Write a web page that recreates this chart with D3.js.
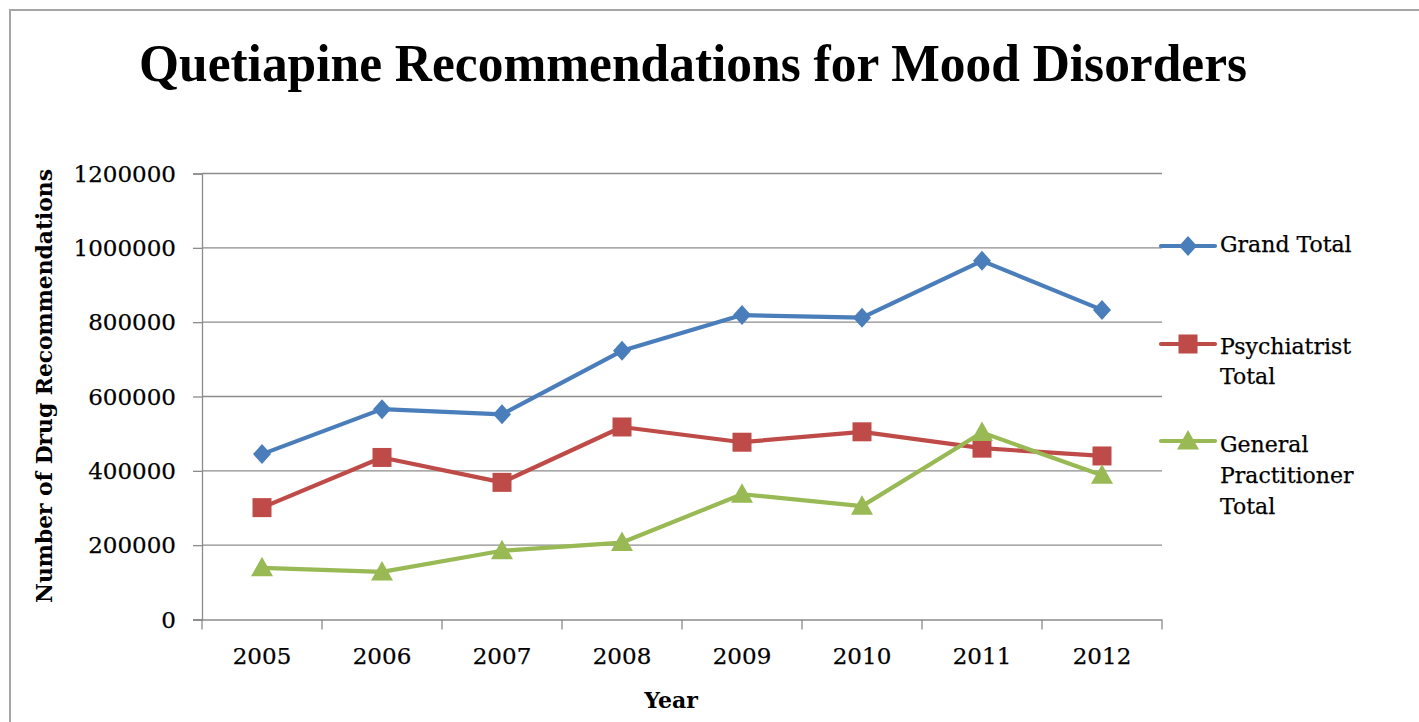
<!DOCTYPE html>
<html>
<head>
<meta charset="utf-8">
<script src="https://cdn.jsdelivr.net/npm/d3@7"></script>
<style>
  html, body { margin: 0; padding: 0; background: #fff; }
  svg { display: block; }
</style>
</head>
<body>
<svg id="chart" width="1419" height="722"></svg>
<script>
// Yearly counts of quetiapine recommendations for mood disorders
const years = ["2005", "2006", "2007", "2008", "2009", "2010", "2011", "2012"];
const grandTotal = [445000, 566000, 552000, 723000, 819000, 812000, 965000, 833000];
const psychiatristTotal = [301000, 436000, 369000, 518000, 477000, 505000, 461000, 440000];
const gpTotal = [139000, 128000, 185000, 207000, 337000, 305000, 503000, 388000];
const yTicks = [0, 200000, 400000, 600000, 800000, 1000000, 1200000];
const seriesNames = [["Grand Total"], ["Psychiatrist", "Total"], ["General", "Practitioner", "Total"]];

const series = [
  { key: "grand", values: grandTotal, color: "#4a7ebb", marker: "diamond", label: seriesNames[0] },
  { key: "psych", values: psychiatristTotal, color: "#be4b48", marker: "square", label: seriesNames[1] },
  { key: "gp", values: gpTotal, color: "#98b954", marker: "triangle", label: seriesNames[2] }
];

const svg = d3.select("#chart");
const serif = "'DejaVu Serif', 'Liberation Serif', serif";

// outer frame
svg.append("rect")
  .attr("x", 10).attr("y", 10).attr("width", 1430).attr("height", 730)
  .attr("fill", "none").attr("stroke", "#a6a6a6").attr("stroke-width", 2);

// title
svg.append("text")
  .attr("x", 139).attr("y", 81)
  .attr("font-family", "'Liberation Serif', serif")
  .attr("font-weight", "bold")
  .attr("font-size", 53)
  .attr("textLength", 1108)
  .attr("lengthAdjust", "spacingAndGlyphs")
  .attr("fill", "#000")
  .text("Quetiapine Recommendations for Mood Disorders");

const plot = { left: 202, right: 1162, top: 173.5, bottom: 619.5 };

const x = d3.scaleBand().domain(years).range([plot.left, plot.right]).padding(0);
const y = d3.scaleLinear().domain([0, 1200000]).range([plot.bottom, plot.top]);

const gridColor = "#8c8c8c";

// horizontal gridlines
svg.append("g")
  .selectAll("line")
  .data(yTicks.filter(d => d > 0))
  .join("line")
  .attr("x1", plot.left).attr("x2", plot.right)
  .attr("y1", d => y(d)).attr("y2", d => y(d))
  .attr("stroke", gridColor).attr("stroke-width", 1.3);

// y axis
const yAxis = svg.append("g")
  .attr("transform", `translate(${plot.left},0)`)
  .call(d3.axisLeft(y).tickValues(yTicks).tickFormat(d3.format("d")).tickSize(9).tickPadding(17));
yAxis.select(".domain").attr("stroke", gridColor).attr("stroke-width", 1.3);
yAxis.selectAll(".tick line").attr("stroke", gridColor).attr("stroke-width", 1.3);
yAxis.selectAll(".tick text")
  .attr("font-family", serif).attr("font-size", 23).attr("fill", "#000")
  .attr("stroke", "#000").attr("stroke-width", 0.25)
  .attr("dy", "0.34em");

// x axis
const xAxis = svg.append("g")
  .attr("transform", `translate(0,${plot.bottom})`)
  .call(d3.axisBottom(x).tickSize(0).tickPadding(28));
xAxis.select(".domain").attr("stroke", gridColor).attr("stroke-width", 1.3)
  .attr("d", `M${plot.left - 9},0.5H${plot.right}`);
xAxis.selectAll(".tick text")
  .attr("font-family", serif).attr("font-size", 23).attr("fill", "#000")
  .attr("stroke", "#000").attr("stroke-width", 0.25);
// category boundary ticks
svg.append("g")
  .selectAll("line")
  .data(d3.range(years.length + 1))
  .join("line")
  .attr("x1", i => plot.left + i * x.step()).attr("x2", i => plot.left + i * x.step())
  .attr("y1", plot.bottom).attr("y2", plot.bottom + 10)
  .attr("stroke", gridColor).attr("stroke-width", 1.3);

// axis titles
svg.append("text")
  .attr("x", 671).attr("y", 708)
  .attr("text-anchor", "middle")
  .attr("font-family", serif).attr("font-weight", "bold").attr("font-size", 22)
  .text("Year");

svg.append("text")
  .attr("transform", "translate(52,386) rotate(-90)")
  .attr("text-anchor", "middle")
  .attr("font-family", serif).attr("font-weight", "bold").attr("font-size", 23)
  .attr("textLength", 434).attr("lengthAdjust", "spacingAndGlyphs")
  .text("Number of Drug Recommendations");

// marker shapes
function markerPath(type) {
  if (type === "diamond") return "M0,-10L9,0L0,10L-9,0Z";
  if (type === "square") return "M-9.5,-9.5H9.5V9.5H-9.5Z";
  return "M0,-11L11,8.5L-11,8.5Z";
}

const cx = d => x(d) + x.bandwidth() / 2;
const line = d3.line().x(d => cx(d.year)).y(d => y(d.value));

series.forEach(s => {
  const pts = years.map((yr, i) => ({ year: yr, value: s.values[i] }));
  const g = svg.append("g").attr("class", "series-" + s.key);
  g.append("path")
    .datum(pts)
    .attr("d", line)
    .attr("fill", "none")
    .attr("stroke", s.color)
    .attr("stroke-width", 4.2)
    .attr("stroke-linejoin", "round");
  g.selectAll("path.marker")
    .data(pts)
    .join("path")
    .attr("class", "marker")
    .attr("transform", d => `translate(${cx(d.year)},${y(d.value)})`)
    .attr("d", markerPath(s.marker))
    .attr("fill", s.color);
});

// legend
const legendRows = [
  { markerY: 246, textY: [252] },
  { markerY: 344, textY: [354, 384] },
  { markerY: 441, textY: [452, 483, 514] }
];
series.forEach((s, i) => {
  const row = legendRows[i];
  const g = svg.append("g");
  g.append("line")
    .attr("x1", 1161).attr("x2", 1215)
    .attr("y1", row.markerY).attr("y2", row.markerY)
    .attr("stroke", s.color).attr("stroke-width", 4.2).attr("stroke-linecap", "round");
  g.append("path")
    .attr("transform", `translate(1188,${row.markerY})`)
    .attr("d", markerPath(s.marker))
    .attr("fill", s.color);
  s.label.forEach((t, j) => {
    g.append("text")
      .attr("x", 1220).attr("y", row.textY[j])
      .attr("font-family", serif).attr("font-size", 22).attr("fill", "#000")
      .attr("stroke", "#000").attr("stroke-width", 0.25)
      .text(t);
  });
});
</script>
</body>
</html>
